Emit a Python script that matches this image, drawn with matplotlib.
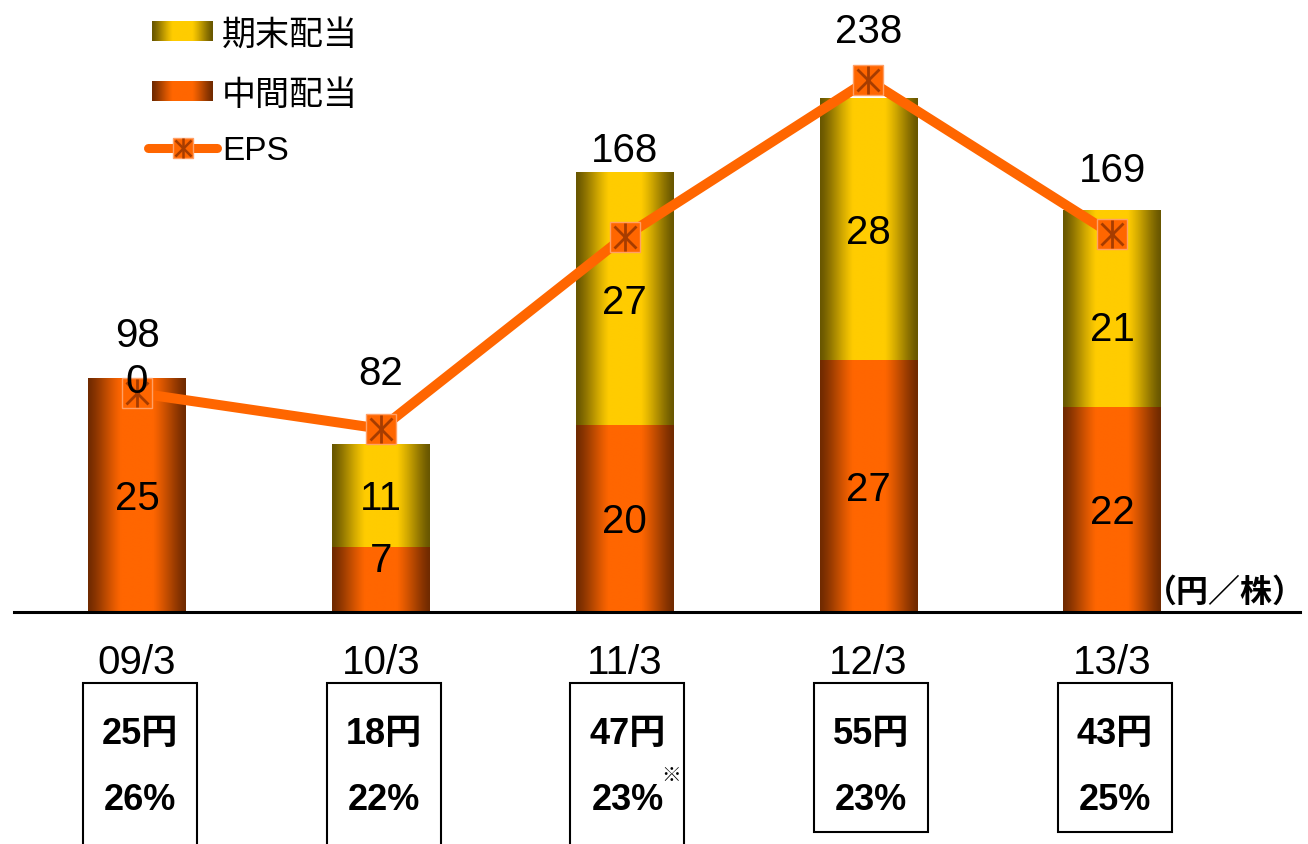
import numpy as np
import matplotlib
matplotlib.use("Agg")
import matplotlib.pyplot as plt
import matplotlib.transforms as mtransforms
from matplotlib.patches import Rectangle
from matplotlib.lines import Line2D

plt.rcParams["font.family"] = ["Liberation Sans", "Noto Sans CJK JP"]

# ---------------------------------------
# Data (dividends in yen/share, EPS in yen)
# ---------------------------------------
years = ["09/3", "10/3", "11/3", "12/3", "13/3"]
interim = [25, 7, 20, 27, 22]      # 中間配当
year_end = [0, 11, 27, 28, 21]     # 期末配当
eps = [98, 82, 168, 238, 169]      # EPS
annual_div = ["25円", "18円", "47円", "55円", "43円"]
payout = ["26%", "22%", "23%", "23%", "25%"]

# colours: (edge, centre) of the bar shading
ORANGE = ("#702a00", "#ff6600")
YELLOW = ("#685600", "#ffcc00")
LINE_C = "#ff6600"
STAR_C = "#a63c00"

W, H = 1308, 845
BASE = 613          # pixel row of the zero line
STEP = 243.75       # pixels between categories
X0 = 137            # pixel column of first category
FS = 29             # size of the big numbers


def fy(py):
    return (H - py) / H


def grad_img(cols, n=256):
    t = np.linspace(0, 1, n)
    w = np.clip(1.15 * np.sin(np.pi * t), 0, 1) ** 1.3
    c0 = np.array(matplotlib.colors.to_rgb(cols[0]))
    c1 = np.array(matplotlib.colors.to_rgb(cols[1]))
    return (c0 + (c1 - c0) * w[:, None])[None, :, :]


def grad_bar(ax, x0, x1, y0, y1, cols, **kw):
    ax.imshow(grad_img(cols), extent=(x0, x1, y0, y1), aspect="auto",
              interpolation="bilinear", **kw)


fig = plt.figure(figsize=(W / 100, H / 100), dpi=100)
ax = fig.add_axes([0, fy(BASE), 1, BASE / H])
ax2 = ax.twinx()

x = np.arange(len(years))
bw = 0.40

for i in x:
    grad_bar(ax, i - bw / 2, i + bw / 2, 0, interim[i], ORANGE, zorder=2)
    if year_end[i] > 0:
        grad_bar(ax, i - bw / 2, i + bw / 2, interim[i],
                 interim[i] + year_end[i], YELLOW, zorder=2)

ax.set_xlim(-X0 / STEP, (W - X0) / STEP)
ax.set_ylim(0, BASE / 9.34)
ax2.set_ylim(0, BASE / 2.235)
ax.axis("off")
ax2.axis("off")

ax.axhline(0, xmin=14 / W, xmax=1300 / W, color="black", lw=2.2,
           clip_on=False, zorder=3)

# EPS line
ax2.plot(x, eps, color=LINE_C, lw=7.2, solid_capstyle="round", zorder=3)
ax2.plot(x, eps, "s", ms=21, mfc=LINE_C, mec="#ffa066", mew=1, zorder=4)
ax2.plot(x, eps, "x", ms=16, mec=STAR_C, mew=2, zorder=5)
ax2.plot(x, eps, "|", ms=20, mec=STAR_C, mew=2, zorder=5)

# segment labels (small nudges where the original shifts them)
interim_nudge = [0, 16, 0, 0, 0]
year_end_nudge = [0, 0, 0, 0, -13]
for i in x:
    ax2.annotate(str(interim[i]), (i, interim[i] / 2), xycoords=ax.transData,
                 xytext=(0, interim_nudge[i] - 2), textcoords="offset points",
                 ha="center", va="center", fontsize=FS, zorder=6)
    ax2.annotate(str(year_end[i]), (i, interim[i] + year_end[i] / 2),
                 xycoords=ax.transData,
                 xytext=(0, year_end_nudge[i] - 2), textcoords="offset points",
                 ha="center", va="center", fontsize=FS, zorder=6)

eps_offset = [42, 40, 62, 35, 46]
for i in x:
    ax2.annotate(str(eps[i]), (i, eps[i]), xytext=(0, eps_offset[i]),
                 textcoords="offset points", ha="center", va="center",
                 fontsize=FS, zorder=6)

# ---------------------------------------
# Category labels and boxes below the axis
# ---------------------------------------
trans = mtransforms.blended_transform_factory(ax.transData, fig.transFigure)
box_bottom = [870, 870, 870, 833, 833]
bx = 0.234
for i in x:
    ax.text(i, fy(663), years[i], transform=trans, ha="center", va="center",
            fontsize=FS, clip_on=False)
    c = i + 0.012
    ax.add_patch(Rectangle((c - bx, fy(box_bottom[i])), 2 * bx,
                           fy(684) - fy(box_bottom[i]), transform=trans,
                           fill=False, ec="black", lw=1.5, clip_on=False))
    ax.text(c, fy(735), annual_div[i], transform=trans, ha="center",
            va="center", fontsize=26, fontweight="bold", clip_on=False)
    ax.text(c, fy(801), payout[i], transform=trans, ha="center",
            va="center", fontsize=26, fontweight="bold", clip_on=False)

ax.text(2 + 0.19, fy(776), "※", transform=trans, ha="center", va="center",
        fontsize=14, family=["Noto Sans CJK JP"], clip_on=False)

fig.text(1305 / W, fy(593), "（円／株）", ha="right", va="center",
         fontsize=23, fontweight="bold")

# ---------------------------------------
# Legend (drawn by hand to keep the gradients)
# ---------------------------------------
for cols, ytop, label in [(YELLOW, 22, "期末配当"), (ORANGE, 82, "中間配当")]:
    lax = fig.add_axes([152 / W, fy(ytop + 20), 61 / W, 20 / H])
    lax.imshow(grad_img(cols), aspect="auto", interpolation="bilinear",
               extent=(0, 1, 0, 1))
    lax.axis("off")
    fig.text(222 / W, fy(ytop + 14), label, ha="left", va="center",
             fontsize=24.5)

ly = fy(149)
fig.add_artist(Line2D([148 / W, 217 / W], [ly, ly], color=LINE_C, lw=6.5,
                      solid_capstyle="round", transform=fig.transFigure))
fig.add_artist(Line2D([183 / W], [ly], marker="s", ms=15, mfc=LINE_C,
                      mec="#ffa066", mew=1, transform=fig.transFigure))
fig.add_artist(Line2D([183 / W], [ly], marker="x", ms=12, mec=STAR_C, mew=1.8,
                      transform=fig.transFigure))
fig.add_artist(Line2D([183 / W], [ly], marker="|", ms=15, mec=STAR_C, mew=1.8,
                      transform=fig.transFigure))
fig.text(222 / W, fy(151), "EPS", ha="left", va="center", fontsize=24)

fig.savefig("out.png", dpi=100)
plt.close(fig)
